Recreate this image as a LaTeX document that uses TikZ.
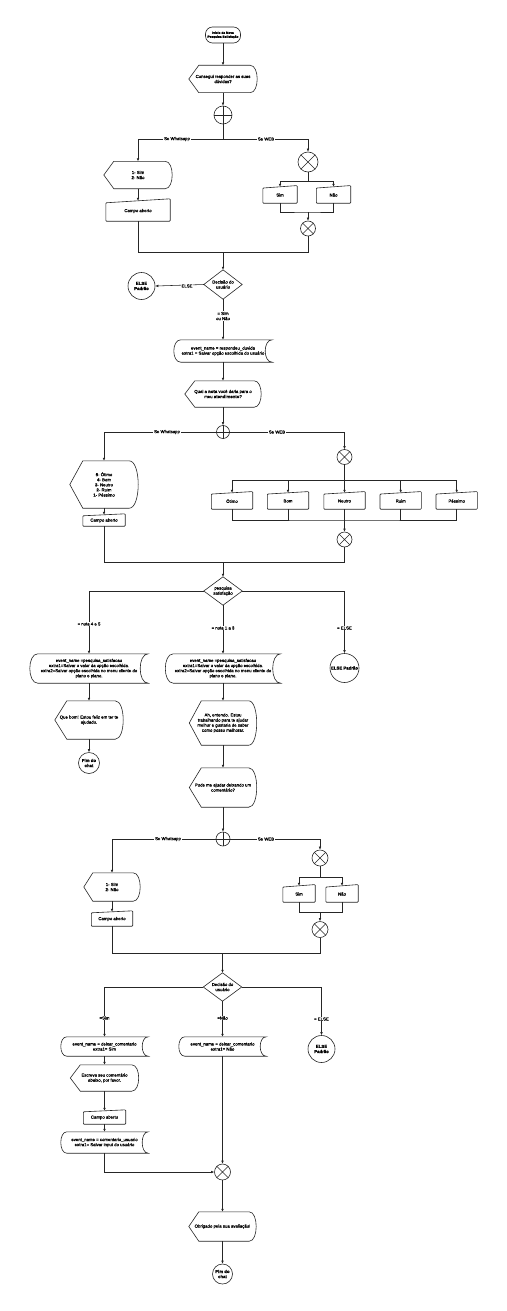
\documentclass[tikz,border=0pt]{standalone}
\usepackage{fontspec}
\setmainfont{Liberation Sans}[UprightFeatures={FakeBold=0.8}, BoldFont={Liberation Sans Bold}, BoldFeatures={FakeBold=0.6}]
\usetikzlibrary{arrows.meta,calc}
\newcommand\fs{\fontsize{4.3}{5.1}\selectfont}
\newcommand\fst{\fontsize{3.2}{3.9}\selectfont}
% display: name, tip depth, curve depth
\newcommand\dispout[3]{%
 \draw[shp] (#1.west) -- ([xshift=#2]#1.north west) -- ([xshift=-#3]#1.north east)
  .. controls ([xshift=#3/3]#1.north east) and ([xshift=#3/3]#1.south east) .. ([xshift=-#3]#1.south east)
  -- ([xshift=#2]#1.south west) -- cycle;}
% manual input: name, slant
\newcommand\manout[2]{%
 \draw[shp, rounded corners=0.8pt] ([yshift=-#2/2]#1.north west) -- ([yshift=#2/2]#1.north east) -- (#1.south east) -- (#1.south west) -- cycle;}
% stored data: name, arc depth
\newcommand\storeout[2]{%
 \draw[shp] ([xshift=#2]#1.north west) -- (#1.north east)
   .. controls ([xshift=-4*#2/3]#1.north east) and ([xshift=-4*#2/3]#1.south east) .. (#1.south east)
   -- ([xshift=#2]#1.south west)
   .. controls ([xshift=-#2/3]#1.south west) and ([xshift=-#2/3]#1.north west) .. ([xshift=#2]#1.north west) -- cycle;}
\newcommand\diaout[1]{\draw[shp] (#1.north) -- (#1.east) -- (#1.south) -- (#1.west) -- cycle;}
\newcommand\sumout[1]{\draw[shp] (#1.45) -- (#1.225) (#1.135) -- (#1.315);}
\newcommand\orout[1]{\draw[shp] (#1.north) -- (#1.south) (#1.west) -- (#1.east);}
\tikzset{
 shp/.style={draw=black!85, line width=0.6pt},
 box/.style={draw=none, inner sep=0pt, align=center, font=\fs},
 circ/.style={circle, shp, inner sep=0pt, align=center, font=\fs\bfseries},
 junc/.style={circle, shp, inner sep=0pt},
 arr/.style={draw=black!85, line width=0.55pt, -{Latex[length=3pt,width=2.6pt]}},
 ln/.style={draw=black!85, line width=0.55pt},
 lbl/.style={fill=white, inner sep=0.6pt, font=\fs, align=center},
}
\begin{document}
\begin{tikzpicture}[x=1pt,y=-1pt]
\fill[white] (0,0) rectangle (506,1311);
\useasboundingbox (0,0) rectangle (506,1311);

% ---------- part 1 ----------
\node[shp, rounded corners=7pt, minimum width=35pt, minimum height=16pt, inner sep=0pt, align=center, font=\fst\bfseries] (start) at (223,35) {Início da Nova\\Pesquisa Satisfação};
\node[box, minimum width=68pt, minimum height=27pt] (q1) at (223,79) {Consegui responder as suas\\dúvidas?};
\dispout{q1}{10pt}{7pt}
\node[junc, minimum size=18pt] (or1) at (223,115) {};
\orout{or1}
\coordinate (b1) at (223,139);
\node[box, minimum width=68pt, minimum height=27pt] (d1) at (138,175) {\textbf{1}- Sim\\\textbf{2}- Não};
\dispout{d1}{10pt}{7pt}
\node[box, minimum width=64pt, minimum height=20pt] (m1) at (138,211) {Campo aberto};
\manout{m1}{4pt}
\node[junc, minimum size=20pt] (x1) at (308,162) {};
\sumout{x1}
\coordinate (b2) at (308,181);
\node[box, minimum width=34pt, minimum height=16pt] (sim1) at (280,195) {Sim};
\manout{sim1}{2.5pt}
\node[box, minimum width=34pt, minimum height=16pt] (nao1) at (333.5,195) {Não};
\manout{nao1}{2.5pt}
\coordinate (j1) at (308,212);
\node[junc, minimum size=15pt] (x2) at (308,228.5) {};
\sumout{x2}
\coordinate (j2) at (223,252);
\node[box, minimum width=38pt, minimum height=29pt] (dec1) at (223,284.5) {Decisão do\\usuário};
\diaout{dec1}
\node[circ, minimum size=27pt] (else1) at (141.5,286) {ELSE\\Padrão};
\node[box, minimum width=98pt, minimum height=22pt] (sd1) at (223,351) {event\_name = respondeu\_duvida\\extra1 = Salvar opção escolhida do usuário};
\storeout{sd1}{7pt}

\draw[arr] (start) -- (q1);
\draw[arr] (q1) -- (or1);
\draw[ln] (or1.south) -- (b1);
\draw[arr] (b1) -| (d1.north);
\draw[arr] (b1) -| (x1.north);
\draw[arr] (d1) -- (m1);
\draw[ln] (x1.south) -- (b2);
\draw[arr] (b2) -| (sim1.north);
\draw[arr] (b2) -| (nao1.north);
\draw[ln] (sim1.south) |- (j1) -| (nao1.south);
\draw[arr] (j1) -- (x2.north);
\draw[ln] (m1.south) |- (j2);
\draw[ln] (x2.south) |- (j2);
\draw[arr] (j2) -- (dec1.north);
\draw[arr] (dec1.west) -- (else1.east);
\draw[arr] (dec1.south) -- (sd1.north);
\node[lbl] (lw1) at (177,139) {Se Whatsapp};
\node[lbl] (lb1) at (266,139) {Se WEB};
\node[lbl] (le1) at (187,286) {ELSE};
\node[lbl] (ls1) at (223,316) {= Sim\\ou Não};

% ---------- part 2 ----------
\node[box, minimum width=76pt, minimum height=26pt] (q2) at (223,394) {Qual a \textbf{nota} você daria para o\\meu \textbf{atendimento}?};
\dispout{q2}{10pt}{7pt}
\node[junc, minimum size=13pt] (or2) at (223,432) {};
\orout{or2}
\node[box, minimum width=68pt, minimum height=47pt] (d2) at (104,484.5) {\textbf{5}- Ótimo\\\textbf{4}- Bom\\\textbf{3}- Neutro\\\textbf{2}- Ruim\\\textbf{1}- Péssimo};
\dispout{d2}{13pt}{9pt}
\node[box, minimum width=42pt, minimum height=11pt] (m2) at (104,520.5) {Campo aberto};
\manout{m2}{2pt}
\node[junc, minimum size=15pt] (x3) at (344.5,457) {};
\sumout{x3}
\coordinate (b3) at (344.5,480);
\foreach \n/\t/\xx in {ot/Ótimo/232,bo/Bom/288,ne/Neutro/344.5,ru/Ruim/400.7,pe/Péssimo/456.7}{
  \node[box, minimum width=41pt, minimum height=16pt] (\n) at (\xx,501) {\t};
  \manout{\n}{2.5pt}
}
\coordinate (j3) at (344.5,520);
\node[junc, minimum size=15pt] (x4) at (344.5,539.5) {};
\sumout{x4}
\coordinate (j4) at (223,562);
\node[box, minimum width=38pt, minimum height=28pt] (dec2) at (223,591) {pesquisa\\satisfação};
\diaout{dec2}

\draw[arr] (sd1) -- (q2);
\draw[arr] (q2) -- (or2);
\draw[arr] (or2.west) -| (d2.north);
\draw[arr] (or2.east) -| (x3.north);
\draw[arr] (d2) -- (m2);
\draw[ln] (x3.south) -- (b3);
\draw[ln] (ot.north |- b3) -- (pe.north |- b3);
\foreach \n in {ot,bo,ne,ru,pe}{\draw[arr] (\n.north |- b3) -- (\n.north);}
\draw[ln] (ot.south) |- (j3) -| (pe.south);
\draw[ln] (bo.south) -- (bo.south |- j3);
\draw[ln] (ru.south) -- (ru.south |- j3);
\draw[ln] (ne.south) -- (j3);
\draw[arr] (j3) -- (x4.north);
\draw[ln] (m2.south) |- (j4);
\draw[ln] (x4.south) |- (j4);
\draw[arr] (j4) -- (dec2.north);
\node[lbl] (lw2) at (167,432) {Se Whatsapp};
\node[lbl] (lb2) at (277,432) {Se WEB};

% ---------- part 3 ----------
\node[box, minimum width=118pt, minimum height=29pt] (sd2) at (89,668.5) {event\_name =pesquisa\_satisfacao\\extra1=Salvar o valor da opção escolhida.\\extra2=Salvar opção escolhida no menu cliente do\\plano e plano.};
\storeout{sd2}{8pt}
\node[box, minimum width=115pt, minimum height=29pt] (sd3) at (223,668.5) {event\_name =pesquisa\_satisfacao\\extra1=Salvar o valor da opção escolhida.\\extra2=Salvar opção escolhida no menu cliente do\\plano e plano.};
\storeout{sd3}{8pt}
\node[circ, minimum size=29pt] (else2) at (344.5,668) {ELSE Padrão};
\node[box, minimum width=68pt, minimum height=38pt] (q3) at (89,720) {Que bom! Estou feliz em ter te\\ajudado.};
\dispout{q3}{12pt}{8pt}
\node[circ, minimum size=21pt] (end1) at (89,763) {Fim do\\chat};
\node[box, minimum width=67pt, minimum height=44pt] (q4) at (223,723) {Ah, entendo. Estou\\trabalhando para te ajudar\\melhor e gostaria de saber\\como posso melhorar.};
\dispout{q4}{12pt}{8pt}
\node[box, minimum width=67pt, minimum height=39pt] (q5) at (223,787.5) {Pode me ajudar deixando um\\comentário?};
\dispout{q5}{12pt}{8pt}

\draw[arr] (dec2.west) -| (sd2.north);
\draw[arr] (dec2.south) -- (sd3.north);
\draw[arr] (dec2.east) -| (else2.north);
\draw[arr] (sd2) -- (q3);
\draw[arr] (q3) -- (end1);
\draw[arr] (sd3) -- (q4);
\draw[arr] (q4) -- (q5);
\node[lbl] (ln1) at (89,624) {= nota 4 e 5};
\node[lbl] (ln2) at (223,628) {= nota 1 a 3};
\node[lbl] (ln3) at (344.5,628) {= ELSE};

% ---------- part 4 ----------
\node[junc, minimum size=14pt] (or3) at (223,839) {};
\orout{or3}
\node[box, minimum width=56pt, minimum height=28pt] (d3) at (112,887) {\textbf{1}- Sim\\\textbf{2}- Não};
\dispout{d3}{9pt}{7pt}
\node[box, minimum width=41pt, minimum height=14pt] (m3) at (112,919) {Campo aberto};
\manout{m3}{2pt}
\node[junc, minimum size=16pt] (x5) at (320,858) {};
\sumout{x5}
\coordinate (b4) at (320,877);
\node[box, minimum width=32pt, minimum height=16pt] (sim3) at (299,894) {Sim};
\manout{sim3}{2.5pt}
\node[box, minimum width=32pt, minimum height=16pt] (nao3) at (342,894) {Não};
\manout{nao3}{2.5pt}
\coordinate (j5) at (320,912);
\node[junc, minimum size=16pt] (x6) at (320,929.5) {};
\sumout{x6}
\coordinate (j6) at (222.5,953);
\node[box, minimum width=38pt, minimum height=28pt] (dec3) at (222.5,987) {Decisão do\\usuário};
\diaout{dec3}

\draw[arr] (q5) -- (or3);
\draw[arr] (or3.west) -| (d3.north);
\draw[arr] (or3.east) -| (x5.north);
\draw[arr] (d3) -- (m3);
\draw[ln] (x5.south) -- (b4);
\draw[arr] (b4) -| (sim3.north);
\draw[arr] (b4) -| (nao3.north);
\draw[ln] (sim3.south) |- (j5) -| (nao3.south);
\draw[arr] (j5) -- (x6.north);
\draw[ln] (m3.south) |- (j6);
\draw[ln] (x6.south) |- (j6);
\draw[arr] (j6) -- (dec3.north);
\node[lbl] (lw3) at (168,839) {Se Whatsapp};
\node[lbl] (lb3) at (266,839) {Se WEB};

% ---------- part 5 ----------
\node[box, minimum width=87pt, minimum height=19pt] (sd4) at (104.5,1046.5) {event\_name = deixar\_comentario\\extra1= Sim};
\storeout{sd4}{6pt}
\node[box, minimum width=87pt, minimum height=19pt] (sd5) at (222.5,1046.5) {event\_name = deixar\_comentario\\extra1= Não};
\storeout{sd5}{6pt}
\node[circ, minimum size=27pt] (else3) at (321.5,1049) {ELSE\\Padrão};
\node[box, minimum width=68pt, minimum height=26pt] (q6) at (104.5,1078) {Escreva seu comentário\\abaixo, por favor.};
\dispout{q6}{10pt}{7pt}
\node[box, minimum width=42pt, minimum height=13pt] (m4) at (104.5,1117.5) {Campo aberto};
\manout{m4}{2pt}
\node[box, minimum width=87pt, minimum height=21pt] (sd6) at (104.5,1142.5) {event\_name = comentario\_usuario\\extra1= Salvar input do usuário};
\storeout{sd6}{6pt}
\node[junc, minimum size=16pt] (x7) at (222.5,1172) {};
\sumout{x7}
\node[box, minimum width=67pt, minimum height=29pt] (q7) at (222.5,1226.5) {Obrigado pela sua avaliação!};
\dispout{q7}{10pt}{7pt}
\node[circ, minimum size=20pt] (end2) at (222.5,1274) {Fim do\\chat};

\draw[arr] (dec3.west) -| (sd4.north);
\draw[arr] (dec3.south) -- (sd5.north);
\draw[arr] (dec3.east) -| (else3.north);
\draw[arr] (sd4) -- (q6);
\draw[arr] (q6) -- (m4);
\draw[arr] (m4) -- (sd6);
\draw[arr] (sd6.south) |- (x7.west);
\draw[arr] (sd5.south) -- (x7.north);
\draw[arr] (x7) -- (q7);
\draw[arr] (q7) -- (end2);
\node[lbl] (lsim) at (104.5,1018) {=Sim};
\node[lbl] (lnao) at (222.5,1018) {=Não};
\node[lbl] (lel) at (321.5,1019) {= ELSE};
\end{tikzpicture}
\end{document}
